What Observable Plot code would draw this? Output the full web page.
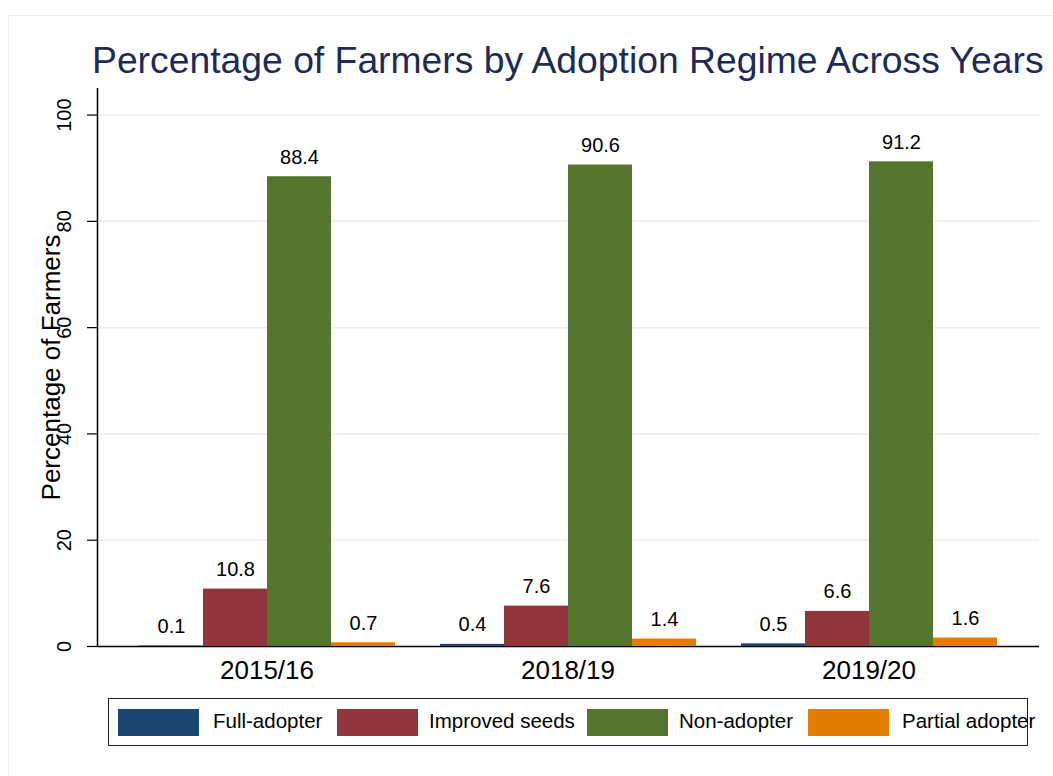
<!DOCTYPE html>
<html>
<head>
<meta charset="utf-8">
<script src="https://cdn.jsdelivr.net/npm/d3@7"></script>
<script src="https://cdn.jsdelivr.net/npm/@observablehq/plot@0.6"></script>
<style>
  body { margin: 0; background: #fff; font-family: "Liberation Sans", Arial, sans-serif; }
  #wrap { position: relative; width: 1053px; height: 776px; overflow: hidden; background: #fff; }
  #frame { position: absolute; left: 8px; top: 15px; width: 1100px; height: 800px; border-left: 1px solid #eeeeee; border-top: 1px solid #eeeeee; }
  #title { position: absolute; left: 92px; top: 42px; font-size: 37.3px; line-height: 37.3px; color: #1c2b59; white-space: nowrap; }
  .layer { position: absolute; left: 0; top: 84px; }
  .layer svg { font-family: "Liberation Sans", Arial, sans-serif; }
  #legendBox { position: absolute; left: 108px; top: 698px; width: 918px; height: 46px; border: 1.5px solid #222; }
  .sw { position: absolute; top: 709px; width: 81px; height: 27px; }
  .lb { position: absolute; top: 711px; font-size: 20.5px; line-height: 20.5px; color: #000; white-space: nowrap; }
</style>
</head>
<body>
<div id="wrap">
  <div id="frame"></div>
  <div id="title">Percentage of Farmers by Adoption Regime Across Years</div>
  <div id="axesLayer" class="layer"></div>
  <div id="barsLayer" class="layer"></div>
  <div id="legendBox"></div>
  <div id="legend"></div>
</div>
<script>
// ---- data ----
const years = ["2015/16", "2018/19", "2019/20"];
const regimes = ["Full-adopter", "Improved seeds", "Non-adopter", "Partial adopter"];
const fullAdopter = [0.1, 0.4, 0.5];
const improvedSeeds = [10.8, 7.6, 6.6];
const nonAdopter = [88.4, 90.6, 91.2];
const partialAdopter = [0.7, 1.4, 1.6];
const regimeColors = ["#1a476f", "#90353b", "#55752f", "#e37e00"];
const yTicks = [0, 20, 40, 60, 80, 100];
const yLabel = "Percentage of Farmers";

const series = [fullAdopter, improvedSeeds, nonAdopter, partialAdopter];
const data = years.flatMap((yr, i) => regimes.map((r, j) => ({ year: yr, regime: r, value: series[j][i] })));

const W = 1053, H = 606;
const margins = { marginLeft: 97, marginRight: 14, marginTop: 4, marginBottom: 44 };
const yScale = { domain: [0, 105], axis: null };
const font = '"Liberation Sans", Arial, sans-serif';

// ---- axes / grid layer ----
const axes = Plot.plot({
  width: W, height: H, ...margins,
  style: { fontFamily: font, background: "transparent", color: "#000" },
  x: { domain: [0, 1], axis: null },
  y: yScale,
  marks: [
    Plot.ruleY(yTicks.filter(t => t > 0), { stroke: "#e8eef1", strokeWidth: 1.5 }),
    Plot.axisY({ ticks: yTicks, tickSize: 10, tickFormat: () => "", label: null, stroke: "#000", strokeWidth: 1.2 }),
    Plot.text(yTicks, { x: 0, y: d => d, text: d => String(d), dx: -33, rotate: -90, textAnchor: "middle", lineAnchor: "middle", fontSize: 20, fill: "#000" }),
    Plot.text([yLabel], { frameAnchor: "left", text: d => d, dx: -46, rotate: -90, textAnchor: "middle", lineAnchor: "middle", fontSize: 26, fill: "#000" }),
    Plot.ruleX([0], { y1: 0, y2: 105, stroke: "#000", strokeWidth: 1.5 }),
    Plot.ruleY([0], { stroke: "#000", strokeWidth: 1.5 })
  ]
});
document.getElementById("axesLayer").appendChild(axes);

// ---- bars layer (faceted by year) ----
const bars = Plot.plot({
  width: W, height: H, ...margins,
  style: { fontFamily: font, background: "transparent", color: "#000" },
  fx: { domain: years, paddingInner: 0.1395, paddingOuter: 0.13, label: null },
  x: { domain: regimes, padding: 0, axis: null },
  y: yScale,
  color: { domain: regimes, range: regimeColors },
  marks: [
    Plot.axisFx({ anchor: "bottom", tickSize: 0, tickPadding: 14, fontSize: 26, label: null }),
    Plot.barY(data, { fx: "year", x: "regime", y: "value", fill: "regime" }),
    Plot.text(data, { fx: "year", x: "regime", y: "value", text: d => d.value.toFixed(1), dy: -13, lineAnchor: "bottom", fontSize: 20, fill: "#000" })
  ]
});
document.getElementById("barsLayer").appendChild(bars);

// ---- legend ----
const swLeft = [118, 337, 587, 808];
const lbLeft = [213, 429, 679, 902];
const legend = document.getElementById("legend");
regimes.forEach((r, i) => {
  const sw = document.createElement("div");
  sw.className = "sw";
  sw.style.left = swLeft[i] + "px";
  sw.style.background = regimeColors[i];
  legend.appendChild(sw);
  const lb = document.createElement("div");
  lb.className = "lb";
  lb.style.left = lbLeft[i] + "px";
  lb.textContent = r;
  legend.appendChild(lb);
});
</script>
</body>
</html>
